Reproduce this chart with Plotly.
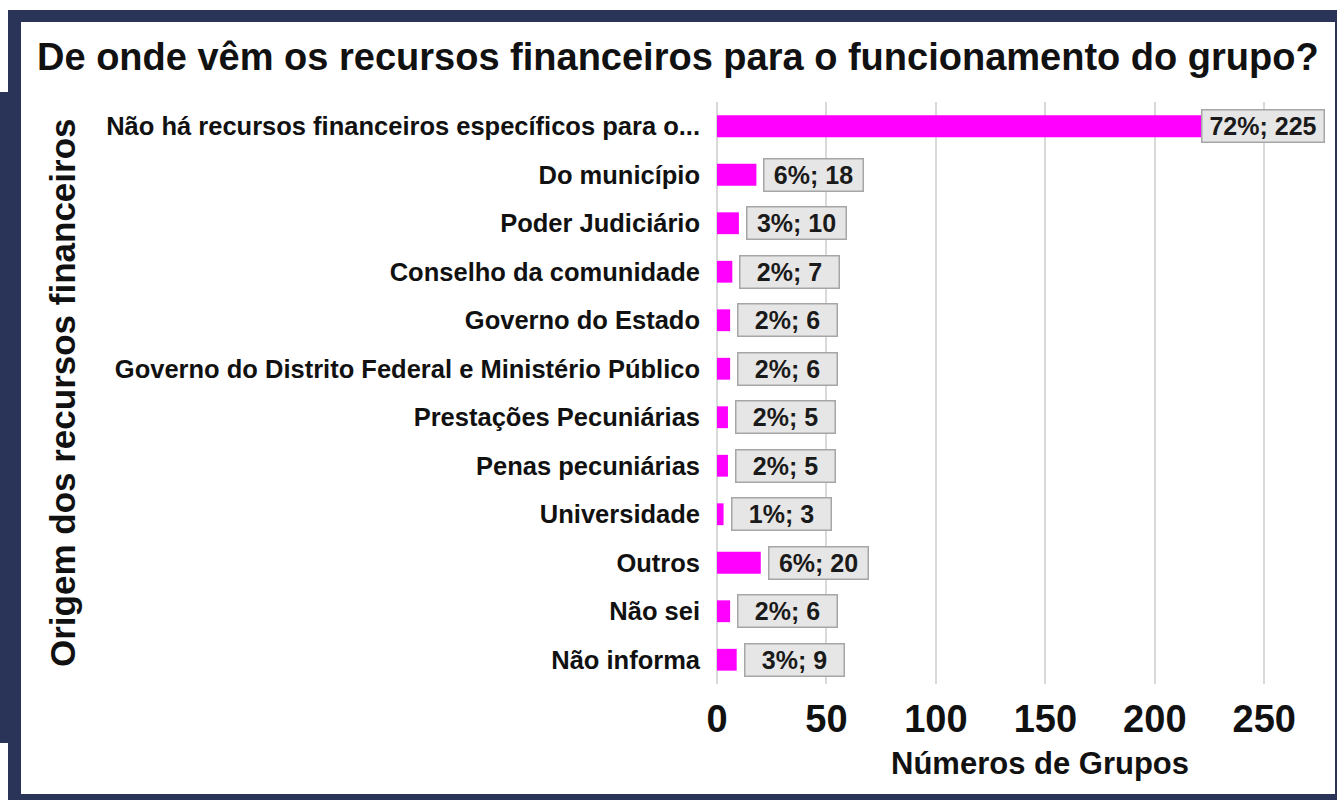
import plotly.graph_objects as go

categories = [
    "Não há recursos financeiros específicos para o...",
    "Do município",
    "Poder Judiciário",
    "Conselho da comunidade",
    "Governo do Estado",
    "Governo do Distrito Federal e Ministério Público",
    "Prestações Pecuniárias",
    "Penas pecuniárias",
    "Universidade",
    "Outros",
    "Não sei",
    "Não informa",
]
values = [225, 18, 10, 7, 6, 6, 5, 5, 3, 20, 6, 9]
percents = ["72%", "6%", "3%", "2%", "2%", "2%", "2%", "2%", "1%", "6%", "2%", "3%"]
x_ticks = [0, 50, 100, 150, 200, 250]

title_text = "De onde vêm os recursos financeiros para o funcionamento do grupo?"
y_title = "Origem dos recursos financeiros"
x_title = "Números de Grupos"

W, H = 1337, 800
L, R, T, B = 717, 18, 102, 116
PW, PH = W - L - R, H - T - B
FONT = "Liberation Sans, Arial, sans-serif"
NAVY = "#293458"


def px(xp):
    return (xp - L) / PW


def py(yp):
    return 1 - (yp - T) / PH


fig = go.Figure()
fig.add_trace(go.Bar(
    x=values, y=categories, orientation="h",
    marker=dict(color="#ff00ff", line=dict(width=0)),
    hoverinfo="skip",
))

annotations = []
for c, v, p in zip(categories, values, percents):
    txt = f"{p}; {v}"
    wide = len(txt) > 7
    annotations.append(dict(
        x=v, y=c, xref="x", yref="y", text=txt, showarrow=False,
        xanchor="left", yanchor="middle", xshift=(-9 if wide else 7),
        width=(119 if wide else 96), height=29, borderpad=1, borderwidth=1.5,
        bgcolor="#e6e6e6", bordercolor="#a6a6a6",
        font=dict(family=FONT, size=25, color="#1a1a1a", weight="bold"),
    ))

annotations.append(dict(
    x=px(62), y=py(393), xref="paper", yref="paper", text=y_title,
    showarrow=False, textangle=-90, xanchor="center", yanchor="middle",
    font=dict(family=FONT, size=35, color="#111111", weight="bold"),
))
annotations.append(dict(
    x=px(1040), y=py(763), xref="paper", yref="paper", text=x_title,
    showarrow=False, xanchor="center", yanchor="middle",
    font=dict(family=FONT, size=31, color="#111111", weight="bold"),
))

shapes = []
for (x0, y0, x1, y1) in [
    (8, 10, 1337, 22),     # top
    (8, 10, 21, 800),      # left
    (0, 92, 21, 743),      # left block
    (8, 794, 1337, 800),   # bottom
    (1335, 10, 1337, 800), # right
]:
    shapes.append(dict(type="rect", xref="paper", yref="paper",
                       x0=px(x0), x1=px(x1), y0=py(y1), y1=py(y0),
                       fillcolor=NAVY, line=dict(width=0), layer="above"))

fig.update_layout(
    width=W, height=H,
    margin=dict(l=L, r=R, t=T, b=B),
    paper_bgcolor="white", plot_bgcolor="white",
    showlegend=False,
    bargap=0.55,
    title=dict(text=title_text, x=37 / W, xref="container", xanchor="left",
               y=1 - 57 / H, yref="container", yanchor="middle",
               font=dict(family=FONT, size=38, color="#111111", weight="bold")),
    xaxis=dict(range=[0, 275], tickvals=x_ticks, showgrid=True,
               gridcolor="#d9d9d9", gridwidth=2, zeroline=True,
               zerolinecolor="#d9d9d9", zerolinewidth=2, showline=False,
               ticks="", ticklabelstandoff=9,
               tickfont=dict(family=FONT, size=38, color="#111111", weight="bold")),
    yaxis=dict(autorange="reversed", showgrid=False, showline=False,
               ticks="", ticklabelstandoff=16,
               tickfont=dict(family=FONT, size=25.5, color="#111111", weight="bold")),
    annotations=annotations,
    shapes=shapes,
)

fig.write_html("out.html", config={"displayModeBar": False},
               post_script="document.body.style.margin='0';document.body.style.overflow='hidden';")
